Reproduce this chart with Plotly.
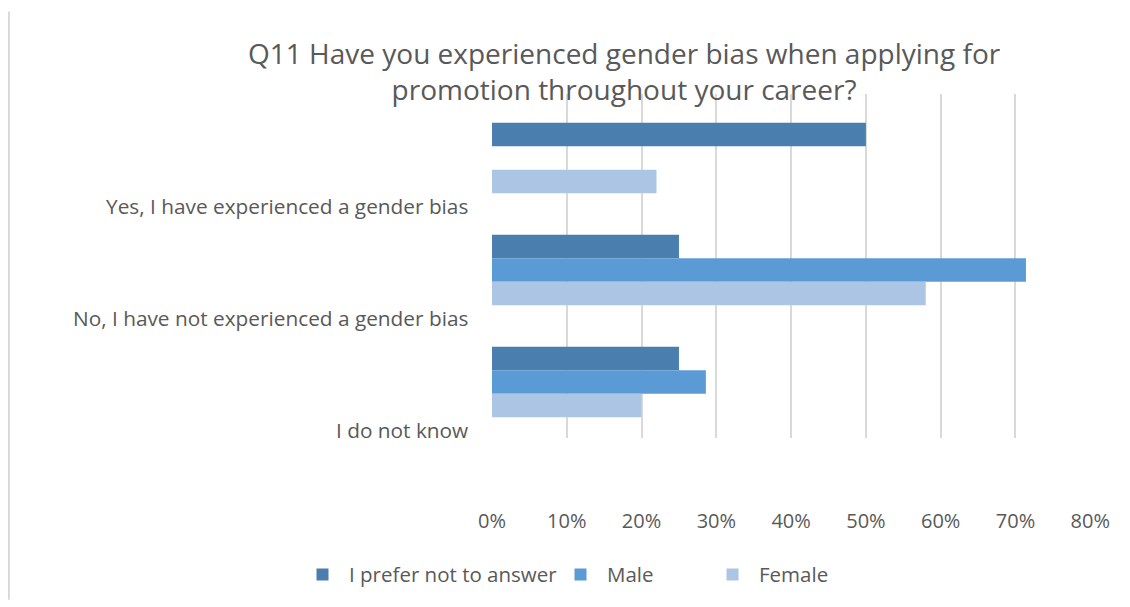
import plotly.graph_objects as go

categories = ["Yes, I have experienced a gender bias",
              "No, I have not experienced a gender bias",
              "I do not know"]
series_names = ["I prefer not to answer", "Male", "Female"]
prefer_vals = [0.50, 0.25, 0.25]
male_vals = [0.0, 0.714, 0.286]
female_vals = [0.22, 0.58, 0.20]
tick_vals = [0, 0.1, 0.2, 0.3, 0.4, 0.5, 0.6, 0.7, 0.8]
tick_text = ["0%", "10%", "20%", "30%", "40%", "50%", "60%", "70%", "80%"]

colors = ["#4A7EAF", "#5B9BD5", "#ADC5E5"]
font_name = "Open Sans"
grey = "#595959"

# each series gets its own legend so the entries can be spaced like the original
legend_ids = ["legend", "legend2", "legend3"]
legend_x = [-0.3272, 0.1035, 0.3573]

fig = go.Figure()
for name, vals, col, lg in zip(series_names, [prefer_vals, male_vals, female_vals], colors, legend_ids):
    fig.add_trace(go.Bar(y=categories, x=vals, name=name, orientation="h", legend=lg,
                         marker=dict(color=col, line=dict(width=0))))

# category labels sit low in the band, as in the original
annos = []
for c in categories:
    annos.append(dict(x=-0.037, y=c, xref="paper", yref="y", text=c, showarrow=False,
                      xanchor="right", yanchor="middle", yshift=-48,
                      font=dict(family=font_name, size=20.8, color=grey)))
annos.append(dict(x=0.222, y=1.066, xref="paper", yref="paper",
                  text="Q11 Have you experienced gender bias when applying for<br>promotion throughout your career?",
                  showarrow=False, xanchor="center", yanchor="middle", align="center",
                  font=dict(family=font_name, size=28, color=grey)))

legends = {}
for lg, lx in zip(legend_ids, legend_x):
    legends[lg] = dict(orientation="h", x=lx, y=-0.397, xanchor="left", yanchor="middle",
                       itemwidth=43, bgcolor="rgba(0,0,0,0)",
                       font=dict(family=font_name, size=20.5, color=grey))

# page has an 8px body margin, so the figure is shifted back by that much
fig.update_layout(
    width=1122, height=599,
    margin=dict(l=484, r=39, t=86, b=163),
    paper_bgcolor="white", plot_bgcolor="white",
    barmode="group", bargap=0.37, bargroupgap=0,
    font=dict(family=font_name, size=20, color=grey),
    annotations=annos,
    showlegend=True,
    shapes=[dict(type="line", xref="paper", yref="paper", x0=-0.8065, x1=-0.8065,
                 y0=1.24, y1=-0.47, line=dict(color="#D9D9D9", width=2))],
    **legends,
)
fig.update_xaxes(range=[0, 0.801], tickvals=tick_vals, ticktext=tick_text,
                 showgrid=True, gridcolor="#D9D9D9", gridwidth=1.5,
                 zeroline=False, showline=False, ticks="",
                 ticklabelstandoff=69,
                 tickfont=dict(family=font_name, size=20, color=grey))
fig.update_yaxes(autorange="reversed", showticklabels=False, showgrid=False,
                 zeroline=False, showline=False, ticks="")

fig.write_html("out.html")
